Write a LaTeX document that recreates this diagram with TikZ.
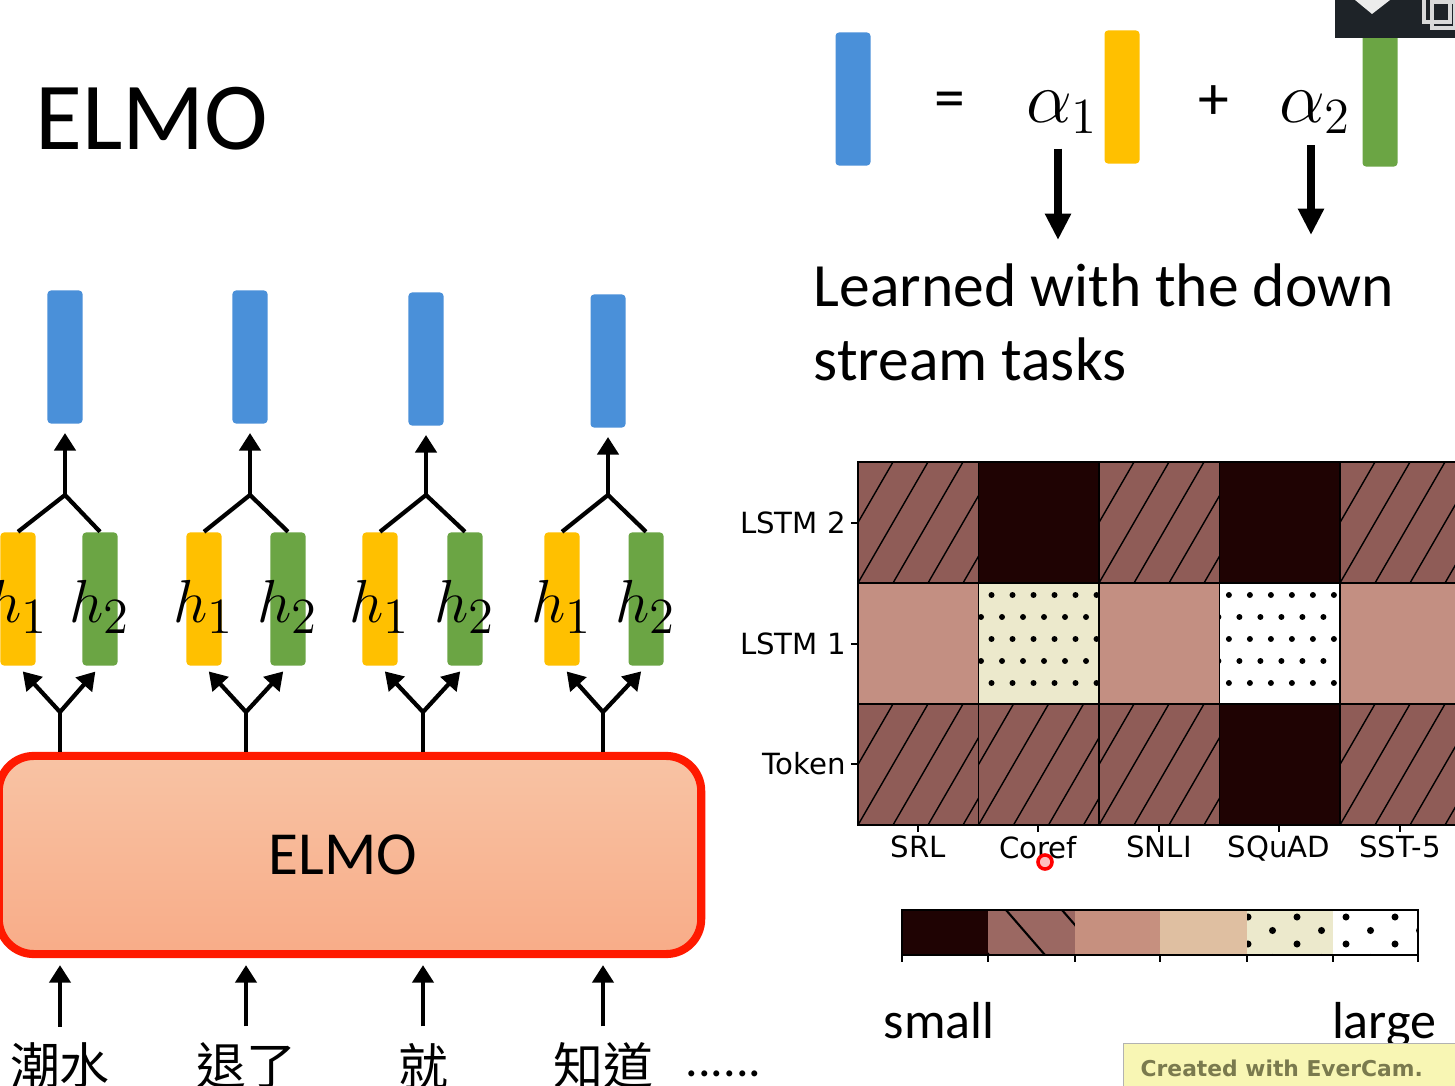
\documentclass[tikz,border=0pt]{standalone}
\usepackage{fontspec}
\setmainfont{Carlito}
\newfontfamily\cjkfont{Noto Sans CJK TC}
\newfontfamily\plotfont{DejaVu Sans}
\usetikzlibrary{arrows.meta,positioning}

\definecolor{barblue}{HTML}{4A90D9}
\definecolor{baryellow}{HTML}{FFC000}
\definecolor{bargreen}{HTML}{6BA544}
\definecolor{elmotop}{HTML}{F8C3A4}
\definecolor{elmobot}{HTML}{F8AC88}
\definecolor{elmoedge}{HTML}{FF1A00}
\definecolor{hatchbrown}{HTML}{8F5C57}
\definecolor{darkcell}{HTML}{1F0303}
\definecolor{pinkcell}{HTML}{C38F82}
\definecolor{creamcell}{HTML}{ECE9CC}
\definecolor{legbrown}{HTML}{9B6862}
\definecolor{legpink}{HTML}{C6907F}
\definecolor{legtan}{HTML}{DFBFA1}
\definecolor{uidark}{HTML}{1E2328}
\definecolor{evercam}{HTML}{F8F6B4}
\definecolor{evertext}{HTML}{7A7A4E}

% one hatched cell of the weight map, top left corner #1,#2
\newcommand{\hatchcell}[3]{%
	\begin{scope}
		\clip (#1,#2) rectangle ++(120.5,121);
		\fill[#3] (#1,#2) rectangle ++(120.5,121);
		\foreach \k in {-2,...,4}
			\draw[line width=0.4pt] ({#1+\k*35},{#2+121}) -- ++(70,-121);
	\end{scope}}
% one dotted cell, #4 = offset of the first dot
\newcommand{\dotcell}[4]{%
	\begin{scope}
		\clip (#1,#2) rectangle ++(120.5,121);
		\fill[#3] (#1,#2) rectangle ++(120.5,121);
		\foreach \r in {0,...,4}
			\foreach \c in {0,...,6}
				\fill ({#1+#4-mod(\r,2)*10.5+\c*21},{#2+12+\r*22}) circle[radius=0.85pt];
	\end{scope}}

\begin{document}
\begin{tikzpicture}[x=0.01cm, y=-0.01cm,
	vec/.style={minimum width=0.35cm, minimum height=1.33cm, inner sep=0pt, rounded corners=1pt},
	bluevec/.style={vec, fill=barblue},
	yelvec/.style={vec, fill=baryellow},
	grnvec/.style={vec, fill=bargreen},
	link/.style={line width=1.2pt},
	arr/.style={line width=1.2pt, -{Triangle[length=5pt,width=6pt]}},
	bigarr/.style={line width=2.3pt, -{Triangle[length=7.5pt,width=7pt]}},
	hlab/.style={font=\fontsize{19}{20}\selectfont, inner sep=0pt},
	word/.style={font=\cjkfont\fontsize{14.2}{16}\selectfont, inner sep=0pt},
	axlab/.style={font=\plotfont\fontsize{8.3}{10}\selectfont, inner sep=1pt},
	big/.style={font=\fontsize{17.5}{20}\selectfont, inner sep=0pt}]
	\clip (0,0) rectangle (1455,1086);
	\fill[white] (0,0) rectangle (1455,1086);
	
	\node[anchor=base west, inner sep=0pt, font=\fontsize{27.3}{30}\selectfont] (title) at (35,150) {ELMO};
	
	% ELMO block
	\node[draw=elmoedge, line width=2.3pt, rounded corners=0.35cm, minimum width=7.02cm, minimum height=1.98cm,
		top color=elmotop, bottom color=elmobot] (e) at (350,855) {};
	\node[font=\fontsize{17.4}{20}\selectfont, inner sep=0pt] (elmo) at (343,855) {ELMO};
	
	\foreach \i/\xt/\yt/\xb/\xy/\xg/\w in {1/65/357/60/18/100/潮水, 2/250/357/246/204/288/退了,
		3/426/359/423/380/465/就, 4/608/361/603/562/646/知道} {
		\node[bluevec] (b\i) at (\xt,\yt) {};
		\node[yelvec] (y\i) at (\xy,599) {};
		\node[grnvec] (g\i) at (\xg,599) {};
		\node[hlab] (hy\i) at (\xy,607) {$h_1$};
		\node[hlab] (hg\i) at (\xg,607) {$h_2$};
		
		\coordinate (u\i) at (\xt,495);
		\draw[link] (y\i.north) -- (u\i) -- (g\i.north);
		\draw[arr, shorten >=2.5pt] (u\i) -- (b\i.south);
		
		\coordinate (d\i) at (\xb,712);
		\draw[link] (d\i |- e.north) -- (d\i);
		\draw[arr, shorten >=2pt] (d\i) -- (y\i.south);
		\draw[arr, shorten >=2pt] (d\i) -- (g\i.south);
		
		\node[word] (t\i) at (\xb,1066) {\w};
		\draw[arr, shorten <=4.5pt, shorten >=2pt] (t\i.north) -- (t\i.north |- e.south);
	}
	\node[anchor=base west, inner sep=0pt, font=\fontsize{14.2}{16}\selectfont] (more) at (685,1076) {......};
	
	% weighted sum
	\node[bluevec] (eb) at (853,99) {};
	\node[big] (eq) at (950,105) {=};
	\node[anchor=base, inner sep=0pt, font=\fontsize{22}{24}\selectfont] (a1) at (1062,123) {$\alpha_1$};
	\node[yelvec] (ey) at (1122,97) {};
	\node[big] (plus) at (1214,103) {+};
	\node[anchor=base, inner sep=0pt, font=\fontsize{22}{24}\selectfont] (a2) at (1315,123) {$\alpha_2$};
	\node[grnvec] (eg) at (1380,100) {};
	
	\coordinate (k1) at (1058,240);
	\coordinate (k2) at (1311,235);
	\draw[bigarr, shorten <=4pt] (k1 |- a1.south) -- (k1);
	\draw[bigarr, shorten <=3pt] (k2 |- a2.south) -- (k2);
	
	\node[big, anchor=base west] (learn) at (813,307) {Learned with the down};
	\node[big, below=0.73cm of learn.base west, anchor=base west] (stream) {stream tasks};
	
	% weights per layer and task
	\hatchcell{858}{462}{hatchbrown}
	\fill[darkcell] (978.5,462) rectangle ++(120.5,121);
	\hatchcell{1099}{462}{hatchbrown}
	\fill[darkcell] (1219.5,462) rectangle ++(120.5,121);
	\hatchcell{1340}{462}{hatchbrown}
	\fill[pinkcell] (858,583) rectangle ++(120.5,121);
	\dotcell{978.5}{583}{creamcell}{13}
	\fill[pinkcell] (1099,583) rectangle ++(120.5,121);
	\dotcell{1219.5}{583}{white}{9.4}
	\fill[pinkcell] (1340,583) rectangle ++(120.5,121);
	\hatchcell{858}{704}{hatchbrown}
	\hatchcell{978.5}{704}{hatchbrown}
	\hatchcell{1099}{704}{hatchbrown}
	\fill[darkcell] (1219.5,704) rectangle ++(120.5,121);
	\hatchcell{1340}{704}{hatchbrown}
	\foreach \x in {978.5,1099,1219.5,1340}
		\draw[line width=0.5pt] (\x,462) -- (\x,825);
	\foreach \y in {583,704}
		\draw[line width=0.5pt] (858,\y) -- (1461,\y);
	\draw[line width=0.6pt] (858,462) rectangle (1461,825);
	
	\foreach \n/\y in {LSTM 2/523, LSTM 1/644, Token/764} {
		\draw[line width=0.5pt] (851,\y) -- (858,\y);
		\node[axlab, anchor=east] at (850,\y) {\n};
	}
	\foreach \n/\x in {SRL/918, Coref/1038, SNLI/1159, SQuAD/1279, SST-5/1400} {
		\draw[line width=0.5pt] (\x,825) -- (\x,832);
		\node[axlab, anchor=north] at (\x,832) {\n};
	}
	\draw[red, line width=1pt, fill=red!25] (1045,862) circle[radius=2pt];
	
	% scale
	\fill[darkcell] (902,910) rectangle (988,955);
	\begin{scope}
		\clip (988,910) rectangle (1075,955);
		\fill[legbrown] (988,910) rectangle (1075,955);
		\foreach \k in {-2,...,1}
			\draw[line width=0.6pt] ({1006+56*\k},910) -- ++(39,45);
	\end{scope}
	\fill[legpink] (1075,910) rectangle (1160,955);
	\fill[legtan] (1160,910) rectangle (1247,955);
	\fill[creamcell] (1247,910) rectangle (1333,955);
	\begin{scope}
		\clip (1247,910) rectangle (1418,955);
		\foreach \r in {-1,...,3}
			\foreach \c in {-1,...,3}
				\fill ({1297+49*\c-mod(\r+2,2)*24.5},{917+13.5*\r}) circle[radius=1pt];
	\end{scope}
	\draw[line width=0.5pt] (902,910) rectangle (1418,955);
	\foreach \x in {902,988,1075,1160,1247,1333,1418}
		\draw[line width=0.5pt] (\x,955) -- (\x,962);
	\node[font=\fontsize{14.8}{16}\selectfont, anchor=base west, inner sep=0pt] (small) at (883,1038) {small};
	\node[font=\fontsize{14.8}{16}\selectfont, anchor=base east, inner sep=0pt] (large) at (1437,1038) {large};
	
	% screen recorder leftovers
	\fill[uidark] (1335,0) rectangle (1455,38);
	\fill[white!85!gray] (1355,0) -- (1390,0) -- (1372,14) -- cycle;
	\draw[white!70!gray, line width=1pt] (1424,-5) rectangle (1450,22);
	\draw[white!70!gray, line width=1pt] (1432,2) rectangle (1455,28);
	\node[draw=gray!60, fill=evercam, anchor=north west, minimum width=3.4cm, minimum height=0.5cm,
		inner sep=0pt] (rec) at (1123,1043) {};
	\node[anchor=west, inner sep=0pt, text=evertext, font=\plotfont\bfseries\fontsize{6.2}{8}\selectfont]
		(rectext) at (1140,1068) {Created with EverCam.};
\end{tikzpicture}
\end{document}
